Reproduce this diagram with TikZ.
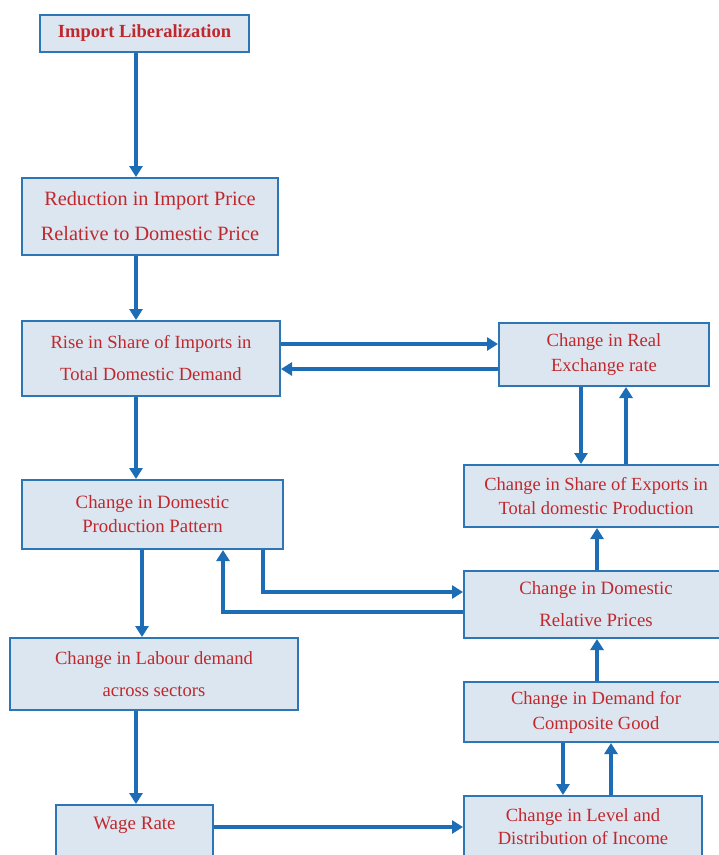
\documentclass[tikz,border=0pt]{standalone}
\usepackage{fontspec}
\setmainfont{Liberation Serif}
\usetikzlibrary{arrows.meta}
\definecolor{boxfill}{RGB}{220,230,241}
\definecolor{boxline}{RGB}{46,117,182}
\definecolor{arrcol}{RGB}{28,108,182}
\definecolor{txtred}{RGB}{192,40,45}
\tikzset{
  box/.style={draw=boxline, line width=2pt, fill=boxfill, text=txtred, align=center,
    inner sep=0pt, font=\fontsize{18.5}{24}\selectfont},
  arr/.style={draw=arrcol, line width=4pt, -{Triangle[length=11pt,width=13pt]}},
  plain/.style={draw=arrcol, line width=4pt}
}
\begin{document}
\begin{tikzpicture}[x=1pt,y=-1pt]
\useasboundingbox (0,0) rectangle (719,855);
\clip (0,0) rectangle (719,855);
\fill[white] (0,0) rectangle (719,855);
% boxes
\node[box, minimum width=209pt, minimum height=37pt, font=\fontsize{18.5}{24}\selectfont\bfseries] (lib) at (144.5,33.5) {Import Liberalization};
\node[box, minimum width=256pt, minimum height=77pt, font=\fontsize{20.3}{35}\selectfont] (red) at (150,216.5) {Reduction in Import Price\\Relative to Domestic Price};
\node[box, minimum width=258pt, minimum height=75pt, font=\fontsize{18.6}{32}\selectfont] (rise) at (151,358.5) {Rise in Share of Imports in\\Total Domestic Demand};
\node[box, minimum width=210pt, minimum height=63pt, font=\fontsize{18.6}{25}\selectfont] (rer) at (604,354.5) {Change in Real\\Exchange rate};
\node[box, minimum width=264pt, minimum height=62pt] (exp) at (596,496) {Change in Share of Exports in\\Total domestic Production};
\node[box, minimum width=261pt, minimum height=69pt, font=\fontsize{18.8}{24}\selectfont] (prod) at (152.5,514.5) {Change in Domestic\\Production Pattern};
\node[box, minimum width=264pt, minimum height=67pt, font=\fontsize{18.8}{32}\selectfont] (rel) at (596,604.5) {Change in Domestic\\Relative Prices};
\node[box, minimum width=288pt, minimum height=72pt, font=\fontsize{18.6}{32}\selectfont] (lab) at (154,674) {Change in Labour demand\\across sectors};
\node[box, minimum width=264pt, minimum height=60pt, font=\fontsize{18.6}{25}\selectfont] (comp) at (596,712) {Change in Demand for\\Composite Good};
\node[box, minimum width=238pt, minimum height=61pt, font=\fontsize{18.6}{23}\selectfont] (inc) at (583,826.5) {Change in Level and\\Distribution of Income};
\node[box, minimum width=157pt, anchor=north, inner ysep=12pt, text height=12pt, text depth=22pt, font=\fontsize{19}{23}\selectfont] (wage) at (134.5,804) {Wage Rate};
% helper coordinates
\coordinate (x136) at (136,0);
\coordinate (x142) at (142,0);
\coordinate (x223) at (223,0);
\coordinate (x263) at (263,0);
\coordinate (x563) at (563,0);
\coordinate (x581) at (581,0);
\coordinate (x597) at (597,0);
\coordinate (x611) at (611,0);
\coordinate (x626) at (626,0);
\coordinate (y344) at (0,344);
\coordinate (y369) at (0,369);
\coordinate (y592) at (0,592);
\coordinate (y612) at (0,612);
\coordinate (y827) at (0,827);
% connectors
\draw[arr] (lib.south -| x136) -- (red.north -| x136);
\draw[arr] (red.south -| x136) -- (rise.north -| x136);
\draw[arr] (rise.south -| x136) -- (prod.north -| x136);
\draw[arr] (rise.east |- y344) -- (rer.west |- y344);
\draw[arr] (rer.west |- y369) -- (rise.east |- y369);
\draw[arr] (rer.south -| x581) -- (exp.north -| x581);
\draw[arr] (exp.north -| x626) -- (rer.south -| x626);
\draw[arr] (rel.north -| x597) -- (exp.south -| x597);
\draw[arr] (comp.north -| x597) -- (rel.south -| x597);
\draw[arr] (comp.south -| x563) -- (inc.north -| x563);
\draw[arr] (inc.north -| x611) -- (comp.south -| x611);
\draw[arr] (prod.south -| x142) -- (lab.north -| x142);
\draw[arr] (lab.south -| x136) -- (wage.north -| x136);
\draw[arr] (wage.east |- y827) -- (inc.west |- y827);
\draw[arr] (prod.south -| x263) -- (x263 |- y592) -- (rel.west |- y592);
\draw[arr] (rel.west |- y612) -- (x223 |- y612) -- (prod.south -| x223);
\end{tikzpicture}
\end{document}
